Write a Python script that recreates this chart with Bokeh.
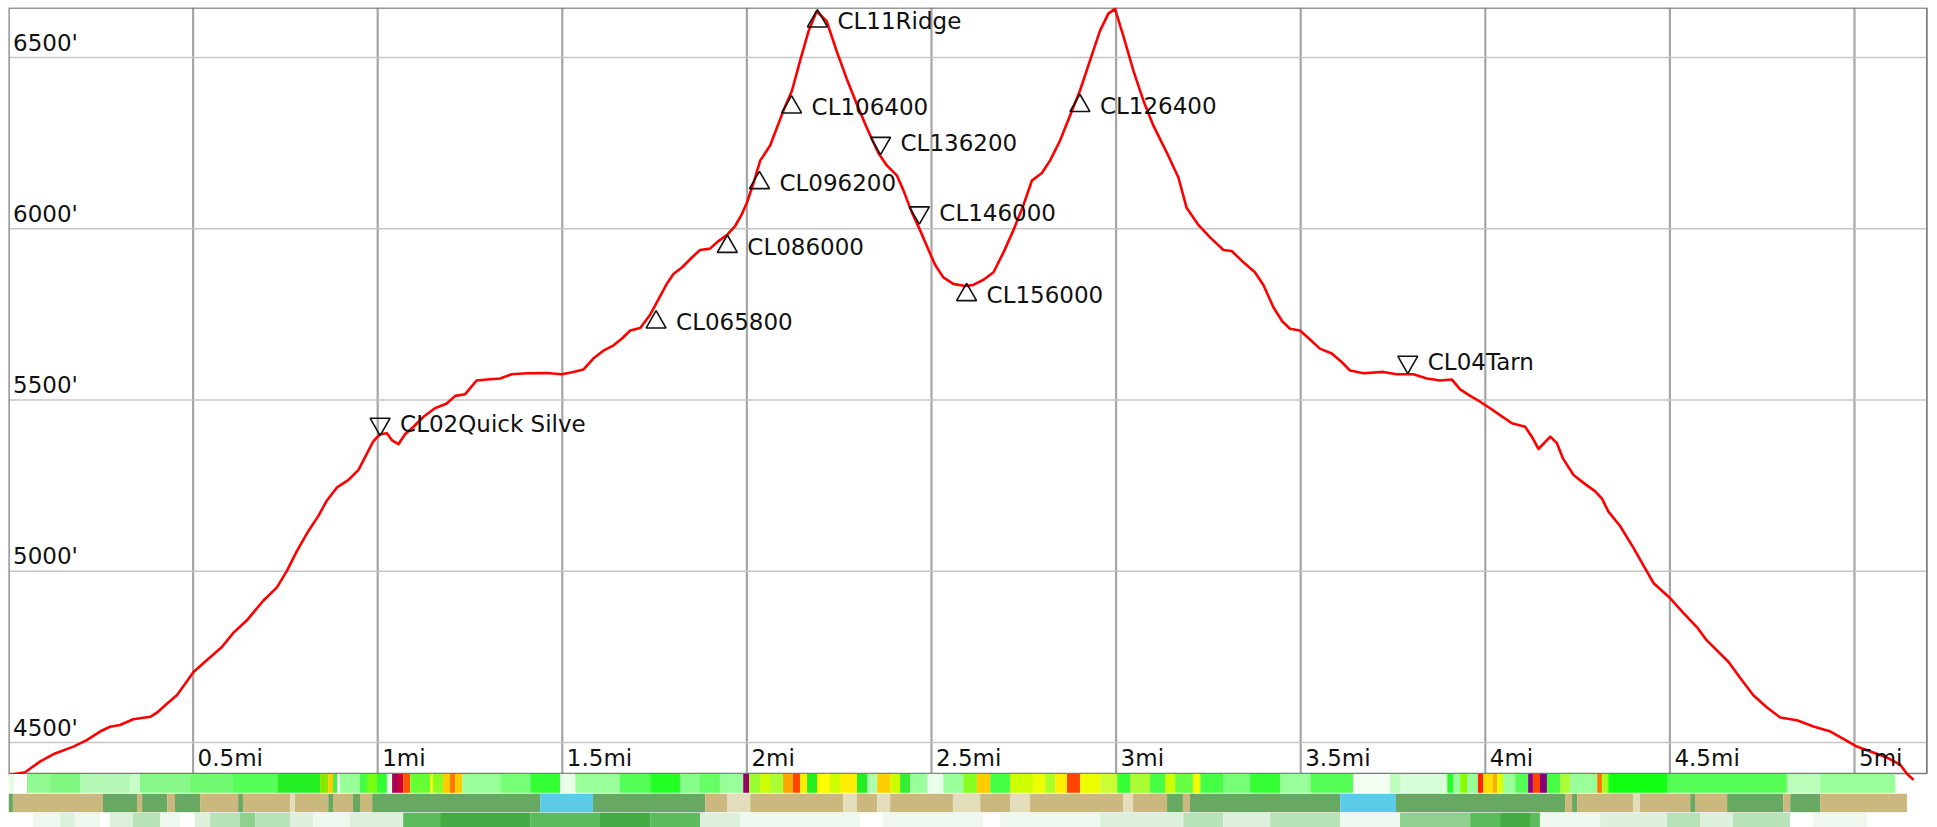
from bokeh.plotting import figure
from bokeh.models import Range1d, ColumnDataSource
from bokeh.embed import file_html
from bokeh.resources import INLINE
from bokeh.core.properties import value

# ---------------- data ----------------
dist_mi = [0.000, 0.045, 0.086, 0.126, 0.176, 0.212, 0.248, 0.275, 0.302, 0.338, 0.384, 0.402, 0.429, 0.456,
           0.478, 0.501, 0.537, 0.578, 0.609, 0.645, 0.690, 0.727, 0.754, 0.781, 0.812, 0.839, 0.862, 0.889,
           0.921, 0.948, 0.970, 0.988, 1.0065, 1.025, 1.038, 1.056, 1.074, 1.097, 1.124, 1.155, 1.187, 1.210,
           1.237, 1.250, 1.268, 1.296, 1.332, 1.363, 1.404, 1.458, 1.499, 1.530, 1.557, 1.584, 1.611, 1.638,
           1.661, 1.684, 1.711, 1.738, 1.760, 1.783, 1.801, 1.824, 1.851, 1.873, 1.900, 1.923, 1.945, 1.968,
           1.986, 2.000, 2.018, 2.036, 2.063, 2.081, 2.099, 2.122, 2.144, 2.167, 2.189, 2.216, 2.243, 2.270,
           2.297, 2.325, 2.356, 2.379, 2.406, 2.424, 2.447, 2.469, 2.492, 2.510, 2.532, 2.559, 2.591, 2.613,
           2.641, 2.668, 2.695, 2.722, 2.749, 2.772, 2.799, 2.821, 2.848, 2.875, 2.902, 2.929, 2.956, 2.979,
           2.997, 3.020, 3.047, 3.074, 3.101, 3.138, 3.169, 3.191, 3.223, 3.255, 3.291, 3.313, 3.345, 3.376,
           3.399, 3.426, 3.450, 3.471, 3.498, 3.526, 3.552, 3.584, 3.611, 3.634, 3.670, 3.724, 3.760, 3.805,
           3.842, 3.878, 3.909, 3.932, 3.959, 3.986, 4.013, 4.040, 4.072, 4.108, 4.126, 4.144, 4.176, 4.194,
           4.211, 4.239, 4.266, 4.297, 4.316, 4.333, 4.365, 4.401, 4.429, 4.456, 4.501, 4.537, 4.573, 4.600,
           4.659, 4.690, 4.726, 4.763, 4.799, 4.844, 4.889, 4.935, 4.971, 5.003, 5.043, 5.088, 5.124, 5.142,
           5.160]
elev_ft = [4405, 4413, 4445, 4468, 4488, 4507, 4532, 4546, 4551, 4568, 4575, 4587, 4613, 4638,
           4671, 4706, 4740, 4779, 4820, 4856, 4914, 4953, 5001, 5059, 5117, 5161, 5206, 5244,
           5267, 5296, 5342, 5379, 5400, 5403, 5383, 5371, 5400, 5422, 5451, 5476, 5490, 5512,
           5517, 5534, 5557, 5560, 5563, 5575, 5578, 5579, 5575, 5582, 5589, 5621, 5644, 5659,
           5679, 5703, 5710, 5749, 5793, 5839, 5868, 5887, 5916, 5938, 5942, 5964, 5981, 6008,
           6042, 6076, 6134, 6199, 6243, 6294, 6345, 6403, 6490, 6577, 6635, 6606, 6519, 6439,
           6366, 6294, 6221, 6185, 6156, 6112, 6047, 5996, 5938, 5894, 5858, 5839, 5833, 5836,
           5851, 5873, 5931, 5996, 6069, 6141, 6163, 6199, 6257, 6330, 6403, 6490, 6577, 6628,
           6642, 6562, 6461, 6374, 6301, 6221, 6149, 6061, 6011, 5974, 5938, 5935, 5902, 5873,
           5836, 5771, 5730, 5708, 5703, 5676, 5650, 5636, 5611, 5586, 5578, 5582, 5575, 5575,
           5563, 5557, 5560, 5531, 5512, 5495, 5476, 5456, 5432, 5422, 5393, 5357, 5393, 5374,
           5328, 5281, 5258, 5234, 5212, 5175, 5132, 5069, 5016, 4965, 4921, 4878, 4837, 4798,
           4735, 4689, 4638, 4602, 4573, 4565, 4547, 4532, 4510, 4490, 4474, 4456, 4435, 4409,
           4391]

wp_names = ["CL02Quick Silve", "CL065800", "CL086000", "CL096200", "CL106400", "CL11Ridge",
            "CL136200", "CL146000", "CL156000", "CL126400", "CL04Tarn"]
wp_mi = [1.0065, 1.754, 1.947, 2.034, 2.121, 2.191, 2.362, 2.467, 2.595, 2.902, 3.790]
wp_ft = [5430, 5727, 5948, 6134, 6355, 6606, 6250, 6047, 5807, 6359, 5611]
wp_dir = ["down", "up", "up", "up", "up", "up", "down", "down", "up", "up", "down"]

xtick_vals = [0.5, 1.0, 1.5, 2.0, 2.5, 3.0, 3.5, 4.0, 4.5, 5.0]
xtick_labels = ["0.5mi", "1mi", "1.5mi", "2mi", "2.5mi", "3mi", "3.5mi", "4mi", "4.5mi", "5mi"]
ytick_vals = [4500, 5000, 5500, 6000, 6500]
ytick_labels = ["4500'", "5000'", "5500'", "6000'", "6500'"]

# band 1: grade colours along the route
grade_edges = [0.000, 0.015, 0.050, 0.113, 0.194, 0.329, 0.356, 0.492, 0.608, 0.728,
               0.844, 0.866, 0.879, 0.890, 0.898, 0.952, 0.971, 0.998, 1.025, 1.039,
               1.055, 1.069, 1.088, 1.142, 1.150, 1.177, 1.196, 1.210, 1.229, 1.332,
               1.413, 1.494, 1.535, 1.656, 1.738, 1.819, 1.873, 1.927, 1.990, 2.006,
               2.036, 2.063, 2.098, 2.125, 2.144, 2.163, 2.190, 2.225, 2.252, 2.298,
               2.326, 2.353, 2.388, 2.415, 2.442, 2.488, 2.532, 2.586, 2.623, 2.659,
               2.713, 2.775, 2.808, 2.835, 2.867, 2.903, 2.957, 3.003, 3.038, 3.092,
               3.133, 3.160, 3.208, 3.228, 3.290, 3.363, 3.444, 3.526, 3.642, 3.742,
               3.769, 3.897, 3.913, 3.932, 3.951, 3.980, 3.994, 4.021, 4.032, 4.048,
               4.081, 4.116, 4.129, 4.148, 4.167, 4.203, 4.230, 4.303, 4.316, 4.333,
               4.492, 4.817, 4.907, 5.110]
grade_colors = ["#e6fbe6", "#ffffff", "#90fa90", "#7ff77f", "#b5f8b5", "#c8fcc8", "#88f888", "#70fa70",
                "#55ff55", "#22f022", "#88e800", "#ffc800", "#44ee44", "#e6ffe6", "#99ff99", "#44ff44",
                "#77ff11", "#33ff33", "#e6ffe6", "#aa0055", "#cc0033", "#ff5500", "#66ff33", "#eeff00",
                "#88ff22", "#ffcc00", "#ff7700", "#ffcc00", "#99ff99", "#77ff77", "#33ff33", "#e8ffe8",
                "#99ff99", "#55ff55", "#22ff22", "#88ff88", "#66ff66", "#99ff99", "#990066", "#99ff33",
                "#ccff00", "#aaff33", "#ffa500", "#ff4400", "#ffee00", "#22ee22", "#ffff00", "#ccff00",
                "#ffee00", "#22ee22", "#aaffaa", "#ffcc00", "#ccff00", "#33ee33", "#99ff99", "#e8ffe8",
                "#99ff99", "#88ff22", "#ffcc00", "#44ff44", "#ccff00", "#eeff00", "#aaff22", "#ffee00",
                "#ff4400", "#eeff00", "#ccff33", "#33ff33", "#aaff33", "#44ff44", "#ccff00", "#66ff44",
                "#eeff00", "#44ff44", "#77ff77", "#33ff33", "#99ff99", "#55ff55", "#f4fff4", "#bbffbb",
                "#d8ffd8", "#22ff22", "#99ff99", "#88ff00", "#99ff99", "#ff2200", "#ffdd00", "#ffaa00",
                "#ddff00", "#99ff99", "#55ff55", "#880088", "#ff4400", "#880077", "#44ff44", "#aaff33",
                "#99ff99", "#ff7700", "#aaff22", "#11ff11", "#55ff55", "#bbffbb", "#99ff99"]

# band 2: surface type along the route
surface_edges = [0.000, 0.012, 0.256, 0.348, 0.362, 0.430, 0.451, 0.519, 0.622, 0.635,
                 0.763, 0.776, 0.866, 0.879, 0.933, 0.952, 0.985, 1.440, 1.583, 1.887,
                 1.946, 2.009, 2.261, 2.298, 2.353, 2.388, 2.558, 2.632, 2.713, 2.767,
                 3.019, 3.046, 3.138, 3.181, 3.200, 3.607, 3.758, 4.216, 4.235, 4.249,
                 4.400, 4.419, 4.555, 4.568, 4.655, 4.807, 4.826, 4.907, 5.142]
surface_types = ["forest", "open", "forest", "open", "forest", "open", "forest", "open", "forest", "open",
                 "rock", "open", "forest", "open", "forest", "open", "forest", "water", "forest", "open",
                 "rock", "open", "rock", "open", "rock", "open", "rock", "open", "rock", "open",
                 "rock", "open", "forest", "open", "forest", "water", "forest", "open", "forest", "open",
                 "rock", "open", "forest", "open", "forest", "open", "forest", "open"]
surface_palette = {"forest": "#67a962", "open": "#cbb87e", "rock": "#e3ddbb", "water": "#5ccbea"}

# band 3: canopy level along the route (0 = none ... 6 = dense)
canopy_edges = [0.000, 0.067, 0.140, 0.180, 0.248, 0.275, 0.337, 0.411, 0.465, 0.505,
                0.546, 0.627, 0.668, 0.763, 0.825, 0.925, 1.069, 1.169, 1.413, 1.602,
                1.738, 1.873, 1.981, 2.307, 2.369, 2.640, 2.686, 2.957, 3.182, 3.290,
                3.417, 3.607, 3.769, 3.959, 4.040, 4.121, 4.148, 4.311, 4.492, 4.582,
                4.671, 4.826, 4.888, 5.034, 5.142]
canopy_levels = [0, 1, 2, 1, 0, 2, 3, 1, 0, 2, 3, 4, 3, 2, 1, 2, 5, 6, 5, 6,
                 5, 2, 1, 0, 1, 0, 1, 2, 3, 2, 3, 1, 4, 5, 6, 5, 1, 2, 3, 2,
                 3, 0, 1, 0]
canopy_palette = ["#ffffff", "#eef8ee", "#dcf0dc", "#b8e2b8", "#8fd08f", "#5cbb5c", "#44aa44"]

# ---------------- layout constants ----------------
FRAME_W = 1920
FRAME_H = 820
PX_PER_FT = 0.3425
Y_TOP = 6646.0
Y_BOT = Y_TOP - FRAME_H / PX_PER_FT
PROFILE_BOTTOM = Y_TOP - 766 / PX_PER_FT
X_END = 5.196
FONT = value("DejaVu Sans")
FSIZE = value("23px")
TXT = "#111111"

p = figure(width=FRAME_W + 8, height=FRAME_H + 7,
           x_range=Range1d(0, FRAME_W / 369.2), y_range=Range1d(Y_BOT, Y_TOP),
           x_axis_type=None, y_axis_type=None, toolbar_location=None,
           output_backend="svg", min_border_left=8, min_border_top=7,
           min_border_right=0, min_border_bottom=0)
p.extra_y_ranges = {"band": Range1d(FRAME_H, 0)}
p.outline_line_color = None
p.background_fill_color = "white"
p.border_fill_color = "white"

# grid lines (restricted to the profile area)
p.segment(x0=xtick_vals, y0=[PROFILE_BOTTOM] * len(xtick_vals), x1=xtick_vals, y1=[Y_TOP] * len(xtick_vals),
          line_color="#a6a6a6", line_width=2.2)
p.segment(x0=[0] * len(ytick_vals), y0=ytick_vals, x1=[X_END] * len(ytick_vals), y1=ytick_vals,
          line_color="#c6c6c6", line_width=1.6)

# profile frame
p.quad(left=[0.001], right=[X_END], bottom=[PROFILE_BOTTOM], top=[Y_TOP - 1.5],
       fill_color=None, line_color="#7a7a7a", line_width=1.7)

p.line(dist_mi, elev_ft, line_color="#ff0000", line_width=2.6, line_join="round")

up = [i for i, d in enumerate(wp_dir) if d == "up"]
dn = [i for i, d in enumerate(wp_dir) if d == "down"]
p.scatter([wp_mi[i] for i in up], [wp_ft[i] for i in up], marker="triangle", size=20,
          fill_color=None, line_color=TXT, line_width=1.6)
p.scatter([wp_mi[i] for i in dn], [wp_ft[i] for i in dn], marker="inverted_triangle", size=20,
          fill_color=None, line_color=TXT, line_width=1.6)

p.text(x=wp_mi, y=wp_ft, text=wp_names, x_offset=20, text_baseline="middle", text_align="left",
       text_font=FONT, text_font_size=FSIZE, text_color=TXT)

p.text(x=[0] * len(ytick_vals), y=ytick_vals, text=ytick_labels, x_offset=4.5, y_offset=-15,
       text_baseline="middle", text_font=FONT, text_font_size=FSIZE, text_color=TXT)
p.text(x=xtick_vals, y=[4500] * len(xtick_vals), text=xtick_labels, x_offset=4.5, y_offset=15,
       text_baseline="middle", text_font=FONT, text_font_size=FSIZE, text_color=TXT)

# ---------------- bands (screen-pixel y range) ----------------
n1 = min(len(grade_edges) - 1, len(grade_colors))
s1 = ColumnDataSource(dict(l=grade_edges[:n1], r=grade_edges[1:n1 + 1], c=grade_colors[:n1]))
p.quad(left="l", right="r", top=766.4, bottom=785.3, fill_color="c", line_color=None,
       source=s1, y_range_name="band")

n2 = min(len(surface_edges) - 1, len(surface_types))
s2 = ColumnDataSource(dict(l=surface_edges[:n2], r=surface_edges[1:n2 + 1],
                           c=[surface_palette[t] for t in surface_types[:n2]]))
p.quad(left="l", right="r", top=786.3, bottom=804.7, fill_color="c", line_color=None,
       source=s2, y_range_name="band")

n3 = min(len(canopy_edges) - 1, len(canopy_levels))
s3 = ColumnDataSource(dict(l=canopy_edges[:n3], r=canopy_edges[1:n3 + 1],
                           c=[canopy_palette[k] for k in canopy_levels[:n3]]))
p.quad(left="l", right="r", top=805.3, bottom=830, fill_color="c", line_color=None,
       source=s3, y_range_name="band")

open("out.html", "w").write(file_html(p, INLINE))
